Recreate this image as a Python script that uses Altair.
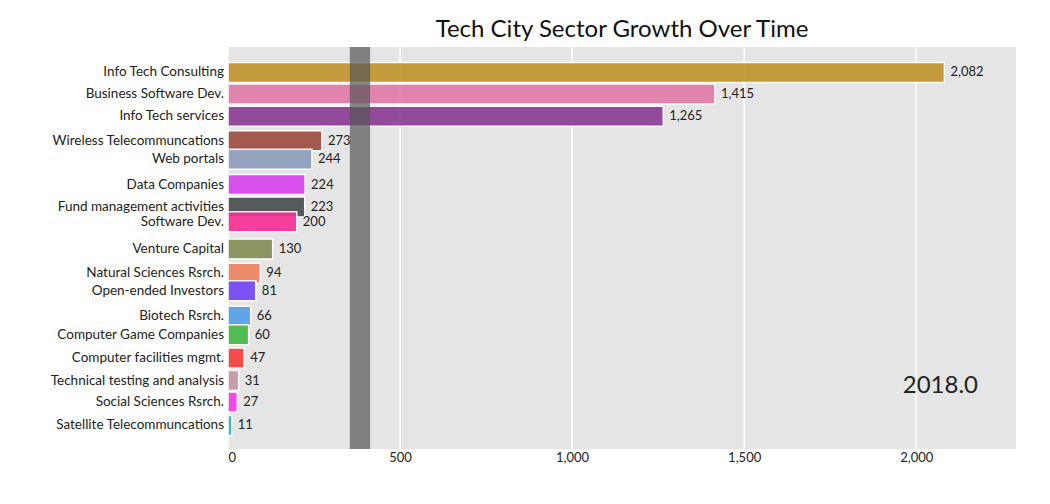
import altair as alt
import pandas as pd

sectors = ["Info Tech Consulting","Business Software Dev.","Info Tech services","Wireless Telecommuncations",
           "Web portals","Data Companies","Fund management activities","Software Dev.","Venture Capital",
           "Natural Sciences Rsrch.","Open-ended Investors","Biotech Rsrch.","Computer Game Companies",
           "Computer facilities mgmt.","Technical testing and analysis","Social Sciences Rsrch.","Satellite Telecommuncations"]
values = [2082,1415,1265,273,244,224,223,200,130,94,81,66,60,47,31,27,11]
rank_pos = [0.91,1.87,2.87,3.96,4.78,5.91,6.91,7.57,8.78,9.87,10.65,11.78,12.61,13.65,14.65,15.61,16.65]
colors = ["#C0922A","#E07AA8","#8B3A96","#9C4A3E","#8C9DBA","#D83FF0","#474C4E","#F72F94","#838E55",
          "#EC8460","#7043F5","#52A0E8","#44B842","#F53A3A","#C4979F","#F238E0","#1FBFA8"]
tick_values = [0, 500, 1000, 1500, 2000]
year_label = "2018.0"

df = pd.DataFrame({"sector": sectors, "value": values, "pos": rank_pos, "color": colors})
df["vlabel"] = [f"{v:,}" for v in values]

FONT = "Lato"
xs = alt.Scale(domain=[0, 2290], nice=False, zero=True)
ys = alt.Scale(domain=[0, 17.48], reverse=True, nice=False, zero=False)

bg = alt.Chart(pd.DataFrame({"a": [0]})).mark_rect(color="#e5e5e5").encode(
    x=alt.value(0), x2=alt.value(788), y=alt.value(0), y2=alt.value(402))
grid = alt.Chart(pd.DataFrame({"t": tick_values})).mark_rule(color="white", strokeWidth=1.5).encode(
    x=alt.X("t:Q", scale=xs, axis=alt.Axis(title=None, grid=False, domain=False, ticks=False,
            labelFont=FONT, labelFontSize=13, labelColor="#222", values=tick_values, format=",.0f")),
    y=alt.value(0), y2=alt.value(402))

base = alt.Chart(df)
bars = base.mark_bar(size=20, stroke="white", strokeWidth=1.5, opacity=0.9, orient="horizontal").encode(
    x=alt.X("value:Q", scale=xs),
    y=alt.Y("pos:Q", scale=ys, axis=None),
    color=alt.Color("color:N", scale=None),
)
vals = base.mark_text(align="left", dx=6, font=FONT, fontSize=13, color="#222").encode(
    x=alt.X("value:Q", scale=xs), y=alt.Y("pos:Q", scale=ys), text="vlabel:N")
names = base.mark_text(align="right", dx=-4, font=FONT, fontSize=13.5, color="#222").encode(
    x=alt.value(0), y=alt.Y("pos:Q", scale=ys), text="sector:N")
band = alt.Chart(pd.DataFrame({"a": [354], "b": [413]})).mark_rect(color="#555", opacity=0.7).encode(
    x=alt.X("a:Q", scale=xs), x2="b:Q", y=alt.value(0), y2=alt.value(402))
yr = alt.Chart(pd.DataFrame({"t": [year_label]})).mark_text(align="right", font=FONT, fontSize=24, color="#222").encode(
    x=alt.value(750), y=alt.value(339), text="t:N")

chart = alt.layer(bg, grid, bars, band, vals, names, yr).properties(
    width=788, height=402,
    padding={"left": 42, "top": 10, "right": 5, "bottom": 5},
    title=alt.TitleParams("Tech City Sector Growth Over Time", font=FONT, fontSize=24, fontWeight="normal", color="#111"),
).configure_view(stroke=None)

chart.save("out.html", embed_options={"renderer": "svg", "actions": False})
